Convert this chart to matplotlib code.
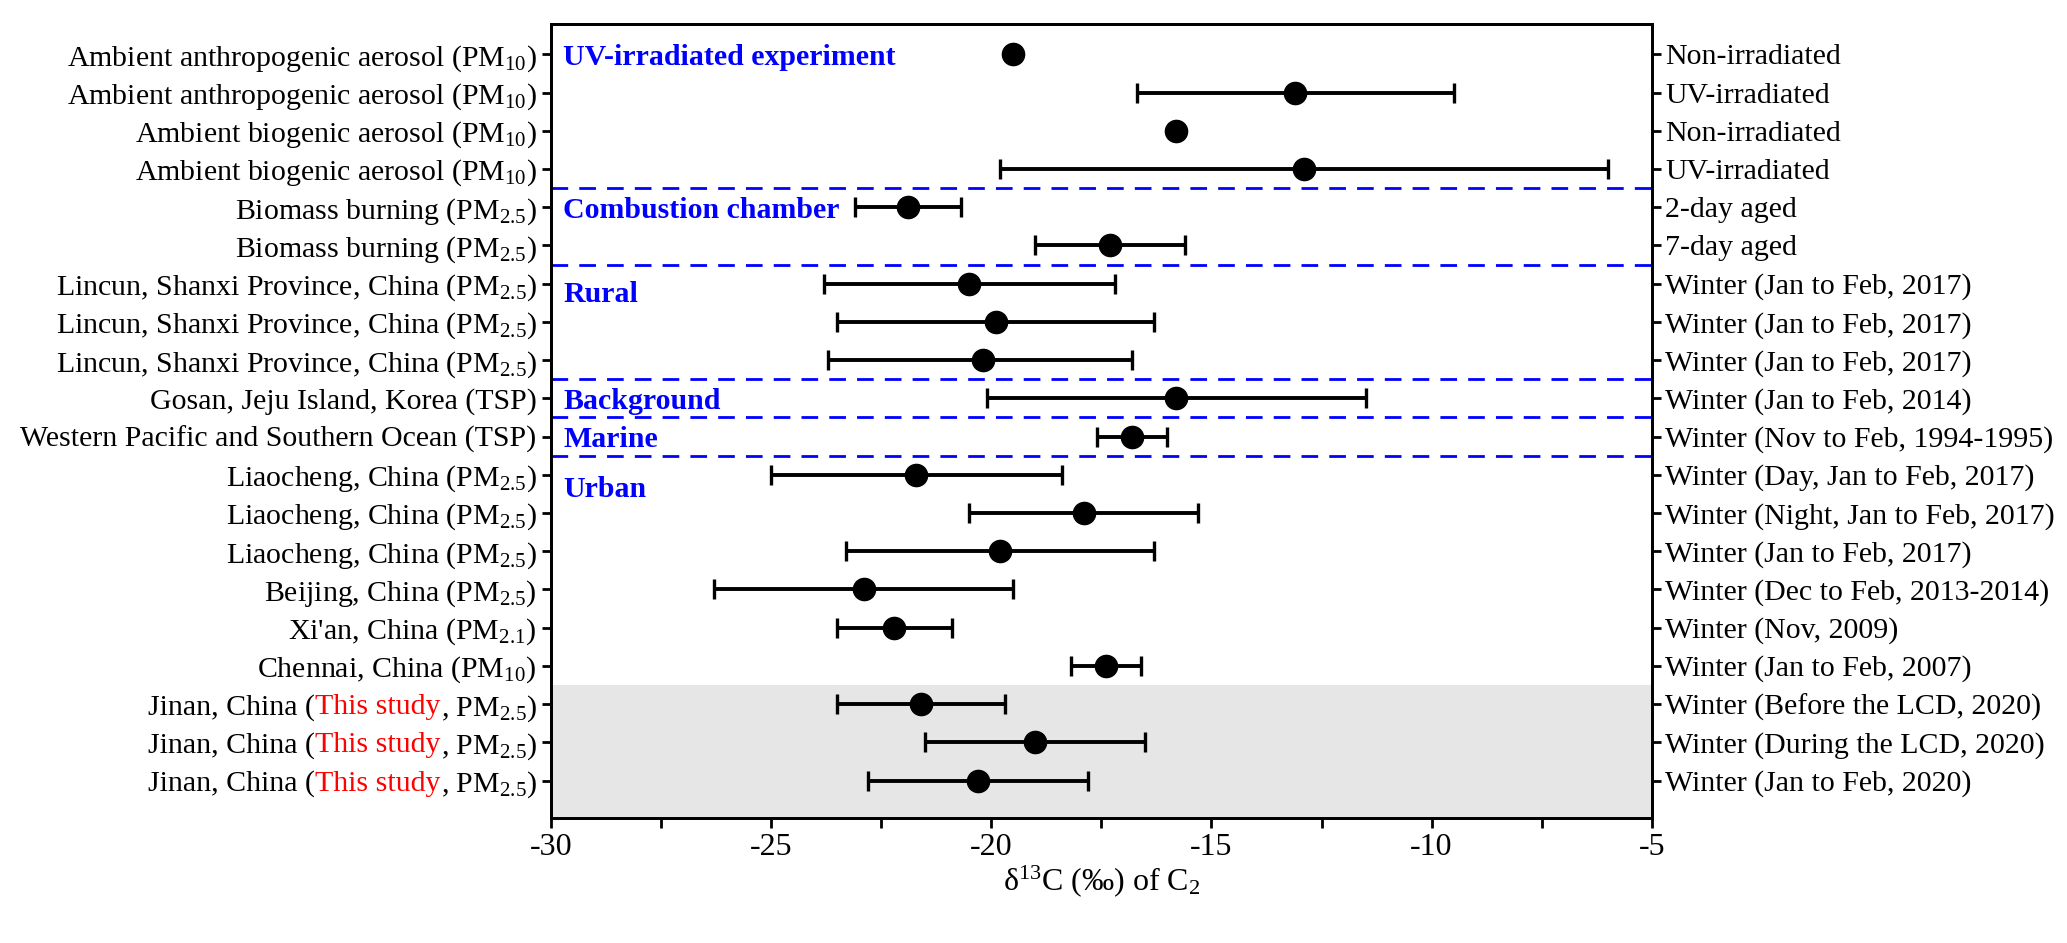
"""Forest-style plot of d13C of C2 from different studies."""

import matplotlib

matplotlib.use("Agg")
import matplotlib.pyplot as plt
import matplotlib.transforms as mtransforms

plt.rcParams["font.family"] = ["Liberation Serif", "DejaVu Serif"]
plt.rcParams["mathtext.fontset"] = "custom"
plt.rcParams["mathtext.rm"] = "Liberation Serif"
plt.rcParams["mathtext.it"] = "Liberation Serif:italic"
plt.rcParams["mathtext.bf"] = "Liberation Serif:bold"
plt.rcParams["axes.unicode_minus"] = False

# data, top to bottom
sites = [
    "Ambient anthropogenic aerosol (PM$_{10}$)",
    "Ambient anthropogenic aerosol (PM$_{10}$)",
    "Ambient biogenic aerosol (PM$_{10}$)",
    "Ambient biogenic aerosol (PM$_{10}$)",
    "Biomass burning (PM$_{2.5}$)",
    "Biomass burning (PM$_{2.5}$)",
    "Lincun, Shanxi Province, China (PM$_{2.5}$)",
    "Lincun, Shanxi Province, China (PM$_{2.5}$)",
    "Lincun, Shanxi Province, China (PM$_{2.5}$)",
    "Gosan, Jeju Island, Korea (TSP)",
    "Western Pacific and Southern Ocean (TSP)",
    "Liaocheng, China (PM$_{2.5}$)",
    "Liaocheng, China (PM$_{2.5}$)",
    "Liaocheng, China (PM$_{2.5}$)",
    "Beijing, China (PM$_{2.5}$)",
    "Xi'an, China (PM$_{2.1}$)",
    "Chennai, China (PM$_{10}$)",
    "Jinan, China (This study, PM$_{2.5}$)",
    "Jinan, China (This study, PM$_{2.5}$)",
    "Jinan, China (This study, PM$_{2.5}$)",
]
periods = [
    "Non-irradiated",
    "UV-irradiated",
    "Non-irradiated",
    "UV-irradiated",
    "2-day aged",
    "7-day aged",
    "Winter (Jan to Feb, 2017)",
    "Winter (Jan to Feb, 2017)",
    "Winter (Jan to Feb, 2017)",
    "Winter (Jan to Feb, 2014)",
    "Winter (Nov to Feb, 1994-1995)",
    "Winter (Day, Jan to Feb, 2017)",
    "Winter (Night, Jan to Feb, 2017)",
    "Winter (Jan to Feb, 2017)",
    "Winter (Dec to Feb, 2013-2014)",
    "Winter (Nov, 2009)",
    "Winter (Jan to Feb, 2007)",
    "Winter (Before the LCD, 2020)",
    "Winter (During the LCD, 2020)",
    "Winter (Jan to Feb, 2020)",
]
mean = [-19.5, -13.1, -15.8, -12.9, -21.9, -17.3, -20.5, -19.9, -20.2, -15.8,
        -16.8, -21.7, -17.9, -19.8, -22.9, -22.2, -17.4, -21.6, -19.0, -20.3]
low = [None, -16.7, None, -19.8, -23.1, -19.0, -23.8, -23.5, -23.7, -20.1,
       -17.6, -25.0, -20.5, -23.3, -26.3, -23.5, -18.2, -23.5, -21.5, -22.8]
high = [None, -9.5, None, -6.0, -20.7, -15.6, -17.2, -16.3, -16.8, -11.5,
        -16.0, -18.4, -15.3, -16.3, -19.5, -20.9, -16.6, -19.7, -16.5, -17.8]

# group name, row where its label sits
groups = [("UV-irradiated experiment", 1.0), ("Combustion chamber", 5.0),
          ("Rural", 7.2), ("Background", 10.0), ("Marine", 11.0), ("Urban", 12.3)]
group_breaks = [4.5, 6.5, 9.5, 10.5, 11.5]
this_study_from = 17.5

rows = list(range(1, len(sites) + 1))
fs = 21.5

fig = plt.figure(figsize=(20.67, 9.43), dpi=100)
ax = fig.add_axes([0.2666, 0.133, 0.5325, 0.8418])

ax.axhspan(this_study_from, 21.5, color="#e6e6e6", lw=0, zorder=0)
for b in group_breaks:
    ax.axhline(b, color="blue", lw=2.0, ls=(0, (6, 4)), zorder=1)

for r, m, lo, hi in zip(rows, mean, low, high):
    if lo is None:
        ax.plot(m, r, "o", color="black", ms=16, zorder=3)
    else:
        ax.errorbar(m, r, xerr=[[m - lo], [hi - m]], fmt="o", color="black",
                    ms=16, elinewidth=2.8, capsize=7.5, capthick=2.4, zorder=3)

for name, r in groups:
    ax.text(-29.72, r, name, color="blue", fontweight="bold", fontsize=fs,
            va="center_baseline", ha="left")

ax.set_xlim(-30, -5)
ax.set_ylim(20.97, 0.2)
ax.set_xticks(range(-30, -4, 5))
ax.set_xticks([-27.5, -22.5, -17.5, -12.5, -7.5], minor=True)
ax.set_xlabel("δ$^{13}$C (‰) of C$_2$", fontsize=23, labelpad=1)

tick_len, tick_pad = 6.5, 4.0
left_labels = ["" if "This study" in s else s for s in sites]
ax.set_yticks(rows)
ax.set_yticklabels(left_labels, fontsize=fs)
ax.tick_params(axis="y", direction="out", length=tick_len, width=2, pad=tick_pad)
ax.tick_params(axis="x", which="both", direction="out", length=7, width=2,
               labelsize=23, pad=4)

ax2 = ax.twinx()
ax2.set_ylim(ax.get_ylim())
ax2.set_yticks(rows)
ax2.set_yticklabels(periods, fontsize=fs)
ax2.tick_params(axis="y", direction="out", length=tick_len, width=2, pad=3)

for a in (ax, ax2):
    for sp in a.spines.values():
        sp.set_linewidth(2)

# left labels with red "This study"
fig.canvas.draw()
renderer = fig.canvas.get_renderer()
base = mtransforms.blended_transform_factory(ax.transAxes, ax.transData)
parts = [("Jinan, China (", "black"), ("This study", "red"), (", PM$_{2.5}$)", "black")]
for r, s in zip(rows, sites):
    if "This study" not in s:
        continue
    x_off = -(tick_len + tick_pad) * fig.dpi / 72
    for piece, color in reversed(parts):
        t = ax.text(0, r, piece, color=color, fontsize=fs, ha="right",
                    va="center_baseline", clip_on=False,
                    transform=mtransforms.offset_copy(base, fig=fig, x=x_off, units="dots"))
        x_off -= t.get_window_extent(renderer).width

fig.savefig("out.png", dpi=100)
